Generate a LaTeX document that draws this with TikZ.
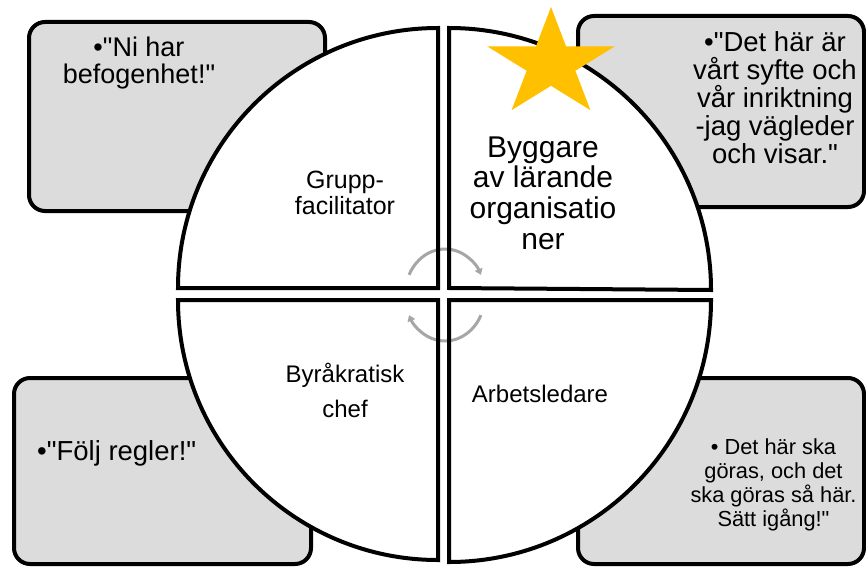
\documentclass[tikz,border=0pt]{standalone}
\usepackage{fontspec}
\setmainfont{Liberation Sans}[Ligatures=TeXOff]
\usetikzlibrary{arrows.meta}
\definecolor{boxgray}{RGB}{220,220,220}
\definecolor{cyclegray}{RGB}{166,166,166}
\definecolor{stargold}{RGB}{255,192,0}
\begin{document}
\begin{tikzpicture}[x=1pt,y=-1pt,
  sidebox/.style={draw=black, line width=4pt, fill=boxgray, rounded corners=16pt},
  quadline/.style={draw=black, line width=4pt, line join=miter},
  cyclearrow/.style={draw=cyclegray, line width=3pt, -{Triangle[length=6pt,width=8pt]}},
  txt/.style={inner sep=0pt, align=center, text=black},
]
\useasboundingbox (0,0) rectangle (866,567);
\fill[white] (0,0) rectangle (866,567);

% side boxes
\path[sidebox] (29,22) rectangle (325,211);
\path[sidebox] (578,16) rectangle (864,207);
\path[sidebox] (14,378) rectangle (311,564);
\path[sidebox] (578,378) rectangle (864,564);

% quadrant corners
\coordinate (cTL) at (438,288);
\coordinate (cTR) at (449,288);
\coordinate (cBL) at (438,300);
\coordinate (cBR) at (449,300);

% quadrant fills
\fill[white] (cTL) -- ++(-260,0) arc[start angle=180,end angle=270,radius=260] -- cycle;
\fill[white] (cTR) -- ++(0,-260) arc[start angle=270,end angle=360,radius=262] -- cycle;
\fill[white] (cBL) -- ++(0,260) arc[start angle=90,end angle=180,radius=260] -- cycle;
\fill[white] (cBR) -- ++(262,0) arc[start angle=0,end angle=90,radius=262] -- cycle;

% cycle arrows
\coordinate (cyc) at (445,295);
\draw[cyclearrow] (cyc) ++(-154:40 and 46) arc[start angle=-154,end angle=-26,x radius=40,y radius=46];
\draw[cyclearrow] (cyc) ++(26:40 and 46) arc[start angle=26,end angle=154,x radius=40,y radius=46];

% quadrant outlines
\path[quadline] (cTL) -- ++(-260,0) arc[start angle=180,end angle=270,radius=260] -- cycle;
\path[quadline] (cTR) -- ++(0,-260) arc[start angle=270,end angle=360,radius=262] -- cycle;
\path[quadline] (cBL) -- ++(0,260) arc[start angle=90,end angle=180,radius=260] -- cycle;
\path[quadline] (cBR) -- ++(262,0) arc[start angle=0,end angle=90,radius=262] -- cycle;

% texts
\node[txt, font=\fontsize{27}{26.5}\selectfont] (tTL) at (139,63) {•"Ni har\\befogenhet!"};
\node[txt, font=\fontsize{27.5}{28}\selectfont] (tTR) at (775,98) {•"Det här är\\vårt syfte och\\vår inriktning\\-jag vägleder\\och visar."};
\node[txt, anchor=base west, font=\fontsize{27.5}{30}\selectfont] (tBL) at (37,460) {•"Följ regler!"};
\node[txt, font=\fontsize{21.8}{23.8}\selectfont] (tBR) at (773.5,484.8) {• Det här ska\\göras, och det\\ska göras så här.\\Sätt igång!"};
\node[txt, font=\fontsize{25}{26}\selectfont] (tGF) at (345,193) {Grupp-\\facilitator};
\node[txt, font=\fontsize{30}{30.7}\selectfont] (tBY) at (543,193) {Byggare\\av lärande\\organisatio\\ner};
\node[txt, font=\fontsize{24}{35}\selectfont] (tBC) at (345,390.4) {Byråkratisk\\chef};
\node[txt, anchor=base, font=\fontsize{24}{29}\selectfont] (tAL) at (540,402) {Arbetsledare};

% star
\fill[stargold] (551,7) -- (535.95,46.36) -- (487.28,46.39) -- (526.65,70.74) -- (511.62,110.11)
  -- (551,85.8) -- (590.38,110.11) -- (575.35,70.74) -- (614.72,46.39) -- (566.05,46.36) -- cycle;
\end{tikzpicture}
\end{document}
